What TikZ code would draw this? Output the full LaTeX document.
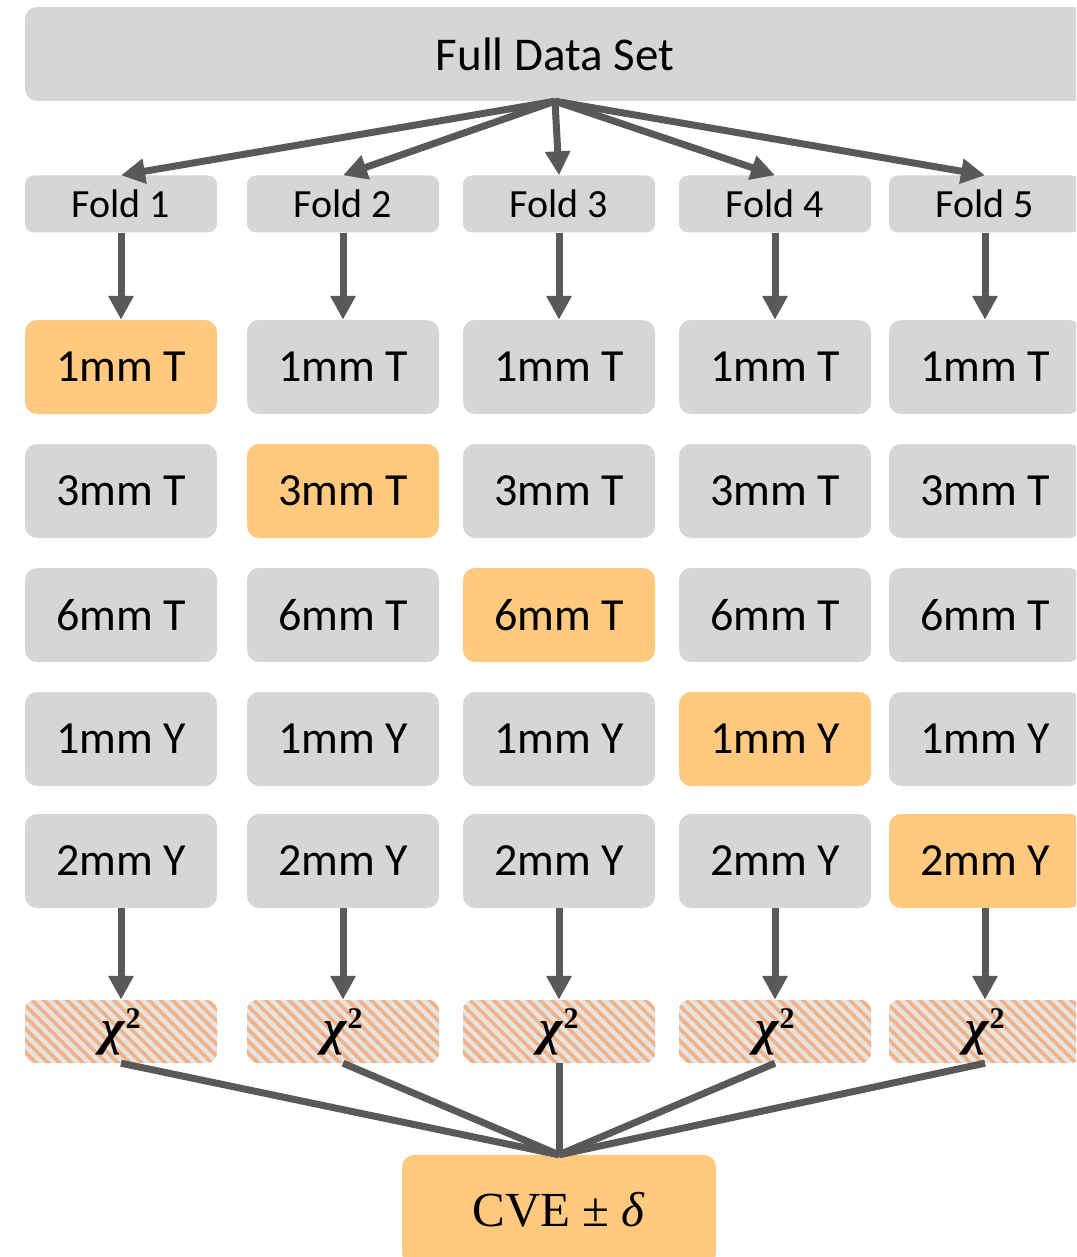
\documentclass[tikz,border=0pt]{standalone}
\usepackage{fontspec}
\setmainfont{Carlito}
\newfontfamily\mathlike{Liberation Serif}
\usetikzlibrary{arrows.meta}
\definecolor{boxgray}{HTML}{D6D6D6}
\definecolor{boxorange}{HTML}{FFC97F}
\definecolor{hatchbg}{HTML}{E4E4E4}
\definecolor{hatchline}{HTML}{F4B183}
\definecolor{arrowgray}{HTML}{595959}
\newcommand{\chisq}{{\itshape\bfseries χ}\kern1pt\raisebox{16pt}{\fontsize{30}{30}\selectfont\bfseries 2}}
\tikzset{
  cell/.style={rectangle, rounded corners=12pt, minimum width=192pt, minimum height=94pt,
    inner sep=0pt, fill=boxgray, font=\fontsize{46}{50}\selectfont},
  hot/.style={fill=boxorange},
  foldbox/.style={rectangle, rounded corners=9pt, minimum width=192pt, minimum height=57pt,
    inner sep=0pt, fill=boxgray, font=\fontsize{40}{44}\selectfont},
  hatchbox/.style={rectangle, rounded corners=10pt, minimum width=192pt, minimum height=63pt,
    inner sep=0pt, fill=hatchbg, font=\mathlike\fontsize{50}{54}\selectfont,
    path picture={
      \foreach \k in {-80,-68.3,...,240}
        \draw[hatchline, line width=3.6pt]
          ([xshift=\k pt, yshift=5pt]path picture bounding box.north west) -- ++(80pt,-80pt);
    }},
  flow/.style={draw=arrowgray, line width=7pt, -{Triangle[length=24pt,width=24pt]}},
  merge/.style={draw=arrowgray, line width=7pt},
}
\begin{document}
\begin{tikzpicture}[x=1pt,y=-1pt]
\useasboundingbox (0,0) rectangle (1076,1257);
\clip (0,0) rectangle (1076,1257);

% top box spanning all folds
\node[cell, minimum width=1060pt, font=\fontsize{47}{50}\selectfont] (full) at (555,54) {Full Data Set};

% folds and their held-out sets
\foreach \i/\x in {1/121, 2/343, 3/559, 4/775, 5/985} {
  \node[foldbox] (f\i) at (\x,204) {Fold \i};
  \foreach \j/\y/\lab in {1/367/1mm T, 2/491/3mm T, 3/615/6mm T, 4/739/1mm Y, 5/861/2mm Y} {
    \ifnum\i=\j
      \node[cell, hot] (r\i\j) at (\x,\y) {\lab};
    \else
      \node[cell] (r\i\j) at (\x,\y) {\lab};
    \fi
  }
  \node[hatchbox] (c\i) at (\x,1031.5) {\raisebox{-4pt}{\chisq}};
}

% cross-validation error
\node[cell, hot, minimum width=314pt, minimum height=110pt, font=\mathlike\fontsize{49}{54}\selectfont]
  (cve) at (559,1210) {CVE ± \textit{δ}};

% splitting arrows
\foreach \i in {1,...,5} {
  \draw[flow] (full.south) -- (f\i.north);
  \draw[flow] (f\i.south) -- (r\i1.north);
  \draw[flow] (r\i5.south) -- (c\i.north);
  \draw[merge] (c\i.south) -- (cve.north);
}
\end{tikzpicture}
\end{document}
